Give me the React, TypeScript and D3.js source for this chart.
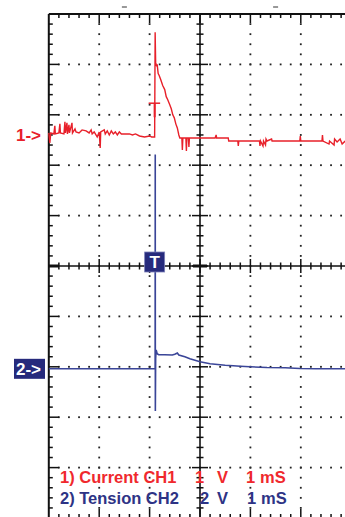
import React from 'react';
import * as d3 from 'd3';

// time in ms (1 div = 1 ms), left edge of the screen = 0
const timeDivs = [0, 1, 2, 3, 4, 5, 6, 7];
const voltDivs = [-5, -4, -3, -2, -1, 0, 1, 2, 3, 4, 5];
const topMarks = [1.5, 4.5];

// channel 1 : current, 1 V/div, ground marker 2.6 div above centre
const ch1Offset = 2.6;
const ch1Scale = 1;
const ch1TrigLevel = 0.63;
const ch1Trace: [number, number][] = [
  [0.0, 0.04], [0.02, -0.16], [0.04, 0.04], [0.1, 0.02], [0.12, 0.18], [0.13, 0.02],
  [0.2, 0.04], [0.22, 0.22], [0.23, 0.04], [0.3, 0.02], [0.32, 0.26], [0.33, 0.04],
  [0.36, 0.24], [0.37, 0.02], [0.4, 0.2], [0.41, 0.04], [0.46, 0.24], [0.47, 0.04],
  [0.52, 0.12], [0.54, 0.06], [0.6, 0.04], [0.66, 0.1], [0.74, 0.08], [0.8, 0.04],
  [0.84, 0.1], [0.86, 0.02], [0.9, 0.06], [0.96, -0.04], [1.0, 0.06], [1.02, -0.26],
  [1.03, 0.06], [1.1, 0.1], [1.12, 0.02], [1.16, 0.08], [1.2, 0.0], [1.24, 0.08],
  [1.28, 0.02], [1.32, 0.06], [1.36, 0.0], [1.4, 0.06], [1.44, 0.02], [1.5, 0.02],
  [1.6, 0.02], [1.66, 0.0], [1.72, 0.02], [1.8, -0.02], [1.9, -0.04], [2.0, -0.02],
  [2.04, -0.04], [2.1, -0.04], [2.11, 2.04], [2.12, 1.44], [2.14, 1.36], [2.15, 1.4],
  [2.17, 1.22], [2.19, 1.18], [2.22, 1.1], [2.26, 0.98], [2.3, 0.9], [2.33, 0.76],
  [2.36, 0.7], [2.4, 0.6], [2.43, 0.52], [2.46, 0.4], [2.49, 0.34], [2.52, 0.22],
  [2.55, 0.14], [2.58, 0.0], [2.6, -0.06], [2.64, -0.06], [2.65, -0.3], [2.66, -0.06],
  [2.72, -0.06], [2.73, -0.32], [2.74, -0.06], [2.77, -0.06], [2.78, -0.24], [2.79, -0.06],
  [3.3, -0.06], [3.32, 0.0], [3.33, -0.06], [3.56, -0.06], [3.57, -0.12], [3.75, -0.12],
  [3.76, -0.22], [3.77, -0.12], [4.18, -0.12], [4.19, -0.22], [4.2, -0.12], [4.25, -0.22],
  [4.26, -0.12], [4.3, -0.2], [4.31, -0.08], [4.33, -0.12], [4.42, -0.08], [4.43, -0.12],
  [4.98, -0.12], [4.99, -0.02], [5.0, -0.12], [5.42, -0.12], [5.43, 0.0], [5.44, -0.12],
  [5.56, -0.18], [5.57, -0.12], [5.66, -0.2], [5.67, -0.08], [5.72, -0.14], [5.78, -0.08],
  [5.82, -0.18], [5.88, -0.12],
];

// channel 2 : tension, 2 V/div, ground marker 2.04 div below centre
const ch2Offset = -2.04;
const ch2Scale = 2;
const ch2Trace: [number, number][] = [
  [0, 0], [2.11, 0], [2.112, 8.5], [2.114, -1.67], [2.12, 0.4], [2.13, 0.75],
  [2.15, 0.6], [2.18, 0.56], [2.3, 0.56], [2.45, 0.55], [2.5, 0.58], [2.55, 0.63],
  [2.58, 0.55], [2.7, 0.48], [2.8, 0.4], [2.9, 0.34], [3.0, 0.28], [3.1, 0.24],
  [3.2, 0.2], [3.4, 0.16], [3.5, 0.14], [3.66, 0.12], [3.8, 0.1], [3.99, 0.08],
  [4.33, 0.05], [4.69, 0.04], [4.98, 0.01], [5.3, 0], [6, 0],
];

const triggerTime = 2.11;

const legendLines = [
  { parts: ['1) Current CH1', '1', 'V', '1', 'mS'], xs: [60, 195, 217, 246, 260], color: '#f0282d' },
  { parts: ['2) Tension CH2', '2', 'V', '1', 'mS'], xs: [60, 200, 217, 247, 261], color: '#2e3385' },
];

const RED = '#e8202a';
const BLUE = '#3a4598';
const NAVY = '#262a7c';

export default function App() {
  const W = 345;
  const H = 517;
  const div = 50.4;
  const left = 48.8;
  const top = 14;

  const x = d3.scaleLinear().domain([0, 6]).range([left, left + 6 * div]);
  const y = d3.scaleLinear().domain([-5, 5]).range([top + 10 * div, top]);
  const minor = div / 5;

  const ch1Line = d3.line<[number, number]>()
    .x(d => x(d[0]))
    .y(d => y(ch1Offset + d[1] / ch1Scale));
  const ch2Line = d3.line<[number, number]>()
    .x(d => x(d[0]))
    .y(d => y(ch2Offset + d[1] / ch2Scale));

  const xMin = x(0);
  const yMin = y(5), yMax = y(-5);
  const cx = x(3), cy = y(0);

  // dotted grid
  const dots: JSX.Element[] = [];
  voltDivs.filter(v => v !== 0 && Math.abs(v) !== 5).forEach(v => {
    for (let k = 1; xMin + k * minor < W; k++) {
      dots.push(<rect key={`h${v}-${k}`} x={xMin + k * minor - 0.9} y={y(v) - 0.9} width={1.8} height={1.8} fill="#222" />);
    }
  });
  timeDivs.filter(t => t !== 0 && t !== 3).forEach(t => {
    for (let k = 1; yMin + k * minor < yMax; k++) {
      dots.push(<rect key={`v${t}-${k}`} x={x(t) - 0.9} y={yMin + k * minor - 0.9} width={1.8} height={1.8} fill="#222" />);
    }
  });

  // ticks
  const ticks: JSX.Element[] = [];
  for (let k = 1; xMin + k * minor < W; k++) {
    const px = xMin + k * minor;
    const major = k % 5 === 0;
    ticks.push(<line key={`tt${k}`} x1={px} x2={px} y1={yMin} y2={yMin + (major ? 9 : 4)} stroke="#111" strokeWidth={1.5} />);
    ticks.push(<line key={`bt${k}`} x1={px} x2={px} y1={yMax} y2={yMax - (major ? 9 : 4)} stroke="#111" strokeWidth={1.5} />);
    ticks.push(<line key={`ct${k}`} x1={px} x2={px} y1={cy - (major ? 7 : 3.5)} y2={cy + (major ? 7 : 3.5)} stroke="#111" strokeWidth={1.5} />);
  }
  for (let k = 1; yMin + k * minor < yMax; k++) {
    const py = yMin + k * minor;
    const major = k % 5 === 0;
    ticks.push(<line key={`lt${k}`} x1={xMin} x2={xMin + (major ? 10 : 4)} y1={py} y2={py} stroke="#111" strokeWidth={1.5} />);
    ticks.push(<line key={`vt${k}`} x1={cx - (major ? 8 : 3.5)} x2={cx + (major ? 8 : 3.5)} y1={py} y2={py} stroke="#111" strokeWidth={1.5} />);
  }

  const tx = x(triggerTime);
  const trigY = y(ch1Offset + ch1TrigLevel / ch1Scale);

  return (
    <svg width={W} height={H} style={{ position: 'absolute', left: 0, top: 0, background: '#fff' }}
      fontFamily="'Liberation Sans', Arial, sans-serif">
      {topMarks.map(t => (
        <line key={`m${t}`} x1={x(t) - 2.5} x2={x(t) + 2.5} y1={7} y2={7} stroke="#333" strokeWidth={1} />
      ))}
      {dots}
      {ticks}
      {/* frame */}
      <line x1={xMin} x2={W} y1={yMin} y2={yMin} stroke="#111" strokeWidth={2} />
      <line x1={xMin} x2={W} y1={yMax} y2={yMax} stroke="#111" strokeWidth={2} />
      <line x1={xMin} x2={xMin} y1={yMin} y2={yMax} stroke="#111" strokeWidth={2} />
      {/* centre axes */}
      <line x1={xMin} x2={W} y1={cy} y2={cy} stroke="#111" strokeWidth={1.6} />
      <line x1={cx} x2={cx} y1={yMin} y2={yMax} stroke="#111" strokeWidth={1.6} />
      <line x1={xMin} x2={xMin + 10} y1={cy} y2={cy} stroke="#111" strokeWidth={3} />
      <line x1={cx - 7} x2={cx + 7} y1={cy} y2={cy} stroke="#111" strokeWidth={3} />

      {/* traces */}
      <path d={ch2Line(ch2Trace) ?? ''} fill="none" stroke={BLUE} strokeWidth={1.6} />
      <path d={ch1Line(ch1Trace) ?? ''} fill="none" stroke={RED} strokeWidth={1.4} />
      {/* trigger level marker on ch1 */}
      <line x1={tx - 6.5} x2={tx + 5} y1={trigY} y2={trigY} stroke={RED} strokeWidth={1.5} />
      <line x1={tx - 0.5} x2={tx - 0.5} y1={trigY} y2={trigY + 14} stroke={RED} strokeWidth={2} />

      {/* trigger box */}
      <rect x={tx - 10.5} y={cy - 14} width={20} height={20} fill={NAVY} stroke="#7d80b8" strokeWidth={0.8} />
      <text x={tx - 0.5} y={cy + 1.5} textAnchor="middle" fill="#fff" fontSize={17} fontWeight="bold">T</text>

      {/* channel markers */}
      <text x={16} y={y(ch1Offset) + 6.5} fill={RED} fontSize={17} fontWeight="bold">1-&gt;</text>
      <rect x={14} y={y(ch2Offset) - 10} width={31} height={20} fill={NAVY} />
      <text x={16} y={y(ch2Offset) + 6} fill="#fff" fontSize={17} fontWeight="bold">2-&gt;</text>

      {/* legend */}
      {legendLines.map((l, i) => (
        <text key={i} y={483 + i * 20.5} fill={l.color} fontSize={16.5} fontWeight="bold">
          {l.parts.map((p, j) => (
            <tspan key={j} x={l.xs[j]}>{p}</tspan>
          ))}
        </text>
      ))}
    </svg>
  );
}
